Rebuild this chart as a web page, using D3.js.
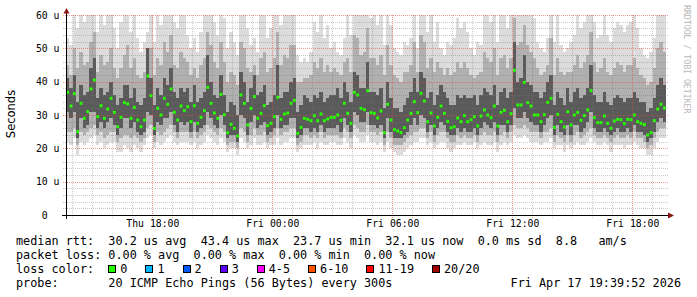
<!DOCTYPE html>
<html>
<head>
<meta charset="utf-8">
<script src="https://cdn.jsdelivr.net/npm/d3@7"></script>
<style>
  html, body { margin: 0; padding: 0; background: #fff; }
  svg { display: block; }
  text { font-family: "DejaVu Sans Mono", monospace; white-space: pre; }
</style>
</head>
<body>
<svg id="chart" width="697" height="297"></svg>
<script>
// time window of the graph (plot spans startTime..endTime)
const startTime = new Date(2026, 3, 16, 13, 41);
const endTime = new Date(2026, 3, 17, 19, 50);
const stepMinutes = 10;

// median rtt per step (u = microseconds)
const median = [
  36.8, 32.7, 36.4, 25.0, 33.5, 29.0, 31.0, 37.8, 40.5, 29.5, 32.8, 29.0,
  31.8, 35.0, 30.8, 26.5, 29.3, 33.7, 33.3, 29.0, 32.3, 28.5, 26.5, 28.5,
  41.7, 35.8, 26.0, 32.0, 30.0, 35.0, 33.2, 37.8, 30.8, 28.5, 32.7, 31.3,
  32.5, 28.0, 32.8, 27.5, 29.3, 31.3, 38.3, 33.5, 30.6, 29.0, 36.2, 30.1,
  24.7, 27.2, 26.0, 23.7, 36.0, 33.5, 27.0, 32.0, 35.5, 29.0, 30.5, 32.8,
  26.8, 27.5, 29.5, 35.3, 28.7, 30.3, 30.6, 33.5, 34.4, 24.5, 26.3, 29.0,
  28.7, 28.3, 29.8, 28.3, 30.3, 28.3, 28.8, 29.3, 29.3, 30.0, 28.4, 33.5,
  30.5, 27.5, 36.8, 36.0, 32.0, 31.6, 37.3, 30.7, 30.5, 29.1, 31.2, 24.7,
  33.2, 28.5, 25.6, 25.2, 24.7, 26.2, 28.5, 30.5, 34.0, 30.7, 36.5, 34.2,
  28.0, 30.6, 26.7, 29.3, 32.7, 30.5, 28.1, 26.2, 26.5, 29.1, 28.0, 29.8,
  28.0, 28.6, 29.5, 26.7, 29.7, 31.5, 30.0, 29.2, 32.7, 26.7, 30.8, 31.4,
  28.0, 30.4, 43.4, 33.0, 33.0, 39.8, 33.7, 32.7, 30.0, 30.0, 28.0, 30.1,
  33.8, 35.0, 26.3, 30.2, 28.0, 26.4, 31.0, 27.0, 30.0, 30.8, 28.4, 29.8,
  31.5, 37.3, 29.2, 27.7, 27.7, 29.7, 27.5, 26.0, 28.2, 28.7, 28.6, 27.4,
  28.7, 28.6, 30.0, 28.0, 27.5, 27.1, 24.0, 24.7, 28.3, 31.8, 33.2, 32.1
];

// smoke: spread of the 20 pings per step
const pingMin = [
  22, 21, 23, 18, 22, 21, 22, 23, 24, 21, 22, 20,
  21, 22, 22, 19, 19, 21, 20, 19, 21, 20, 19, 21,
  23, 24, 20, 22, 21, 22, 23, 24, 22, 21, 22, 22,
  22, 21, 22, 20, 21, 22, 24, 23, 22, 21, 23, 22,
  19, 20, 20, 18, 23, 22, 20, 21, 23, 21, 21, 22,
  20, 21, 21, 23, 21, 22, 22, 23, 23, 19, 20, 21,
  21, 21, 22, 20, 22, 21, 21, 22, 22, 21, 21, 23,
  22, 20, 24, 23, 22, 22, 24, 22, 22, 21, 22, 19,
  22, 20, 19, 18, 18, 19, 20, 21, 22, 22, 23, 23,
  21, 22, 20, 21, 22, 22, 20, 19, 20, 21, 21, 22,
  21, 21, 22, 20, 21, 22, 21, 21, 22, 19, 21, 22,
  21, 22, 24, 23, 23, 24, 23, 22, 22, 22, 21, 22,
  22, 23, 20, 21, 21, 19, 21, 20, 21, 22, 21, 21,
  22, 23, 22, 21, 21, 22, 21, 19, 21, 21, 21, 20,
  21, 21, 22, 21, 20, 20, 18, 18, 20, 22, 23, 23
];
const ping10 = [
  25, 25, 26, 21, 25, 24, 25, 26, 27, 24, 25, 23,
  24, 25, 25, 22, 23, 24, 24, 23, 24, 23, 22, 23,
  26, 27, 22, 25, 24, 25, 26, 27, 25, 23, 25, 25,
  25, 23, 25, 23, 24, 25, 27, 26, 25, 24, 26, 25,
  21, 22, 22, 20, 26, 25, 22, 24, 26, 24, 24, 25,
  22, 23, 24, 26, 24, 25, 25, 26, 26, 21, 22, 24,
  24, 23, 24, 23, 25, 23, 24, 24, 24, 24, 23, 26,
  25, 23, 27, 26, 25, 25, 27, 25, 25, 24, 25, 21,
  25, 23, 21, 21, 21, 22, 23, 24, 25, 25, 26, 26,
  23, 25, 22, 24, 25, 25, 23, 22, 22, 24, 23, 24,
  23, 23, 24, 22, 24, 25, 24, 24, 25, 22, 24, 25,
  23, 25, 27, 26, 26, 27, 26, 25, 25, 25, 23, 25,
  25, 26, 22, 24, 23, 22, 24, 22, 24, 25, 23, 24,
  25, 26, 24, 23, 23, 24, 23, 22, 23, 24, 23, 23,
  24, 23, 25, 23, 23, 22, 20, 21, 23, 25, 26, 26
];
const pingQ1 = [
  31, 29, 31, 23, 29, 26, 27, 31, 31, 26, 28, 26,
  28, 29, 27, 24, 26, 29, 29, 26, 28, 25, 24, 25,
  31, 30, 24, 28, 27, 29, 29, 31, 27, 25, 28, 27,
  28, 25, 28, 25, 26, 27, 31, 29, 27, 26, 30, 27,
  23, 24, 24, 22, 30, 29, 24, 28, 30, 26, 27, 28,
  24, 25, 26, 30, 26, 27, 27, 29, 29, 23, 24, 26,
  26, 25, 26, 25, 27, 25, 26, 26, 26, 27, 25, 29,
  27, 25, 31, 30, 28, 28, 31, 27, 27, 26, 27, 23,
  29, 25, 23, 23, 23, 24, 25, 27, 29, 27, 30, 29,
  25, 27, 24, 26, 28, 27, 25, 24, 24, 26, 25, 26,
  25, 25, 26, 24, 26, 28, 27, 26, 28, 24, 27, 27,
  25, 27, 32, 29, 29, 31, 29, 28, 27, 27, 25, 27,
  29, 30, 24, 27, 25, 24, 27, 24, 27, 27, 25, 26,
  28, 31, 26, 25, 25, 26, 25, 24, 25, 26, 25, 25,
  26, 25, 27, 25, 25, 24, 22, 23, 25, 28, 29, 28
];
const pingQ3 = [
  41, 38, 42, 34, 39, 36, 37, 44, 47, 35, 38, 36,
  37, 40, 36, 33, 35, 39, 39, 35, 38, 34, 33, 35,
  50, 41, 33, 38, 36, 41, 39, 44, 37, 35, 38, 37,
  38, 34, 39, 34, 35, 37, 48, 40, 36, 35, 42, 36,
  31, 34, 33, 30, 43, 40, 34, 38, 42, 36, 37, 39,
  33, 34, 36, 45, 35, 37, 37, 40, 41, 31, 33, 36,
  35, 34, 36, 35, 37, 34, 35, 36, 36, 38, 35, 40,
  37, 34, 43, 42, 38, 38, 46, 37, 37, 36, 38, 32,
  40, 35, 32, 32, 31, 33, 35, 37, 41, 37, 43, 41,
  35, 37, 33, 36, 39, 37, 35, 33, 33, 36, 35, 36,
  35, 35, 36, 33, 36, 38, 37, 36, 39, 33, 37, 38,
  35, 37, 52, 40, 41, 48, 40, 39, 37, 37, 35, 37,
  40, 42, 33, 37, 35, 33, 38, 34, 37, 38, 35, 36,
  38, 45, 36, 34, 34, 37, 34, 33, 35, 36, 35, 34,
  35, 35, 37, 35, 34, 34, 31, 32, 35, 39, 41, 39
];
const ping90 = [
  45, 42, 50, 44, 49, 45, 46, 52, 55, 43, 48, 45,
  46, 50, 44, 41, 44, 48, 51, 44, 47, 42, 41, 43,
  50, 50, 42, 47, 45, 52, 49, 54, 45, 44, 49, 47,
  46, 42, 44, 41, 45, 47, 55, 51, 46, 44, 52, 46,
  40, 43, 42, 39, 52, 50, 44, 43, 45, 42, 47, 49,
  43, 44, 47, 55, 45, 48, 47, 51, 51, 40, 40, 41,
  41, 42, 46, 44, 47, 43, 45, 43, 44, 43, 42, 46,
  47, 43, 54, 53, 48, 49, 56, 47, 47, 45, 48, 42,
  51, 45, 42, 41, 40, 43, 43, 45, 52, 43, 54, 52,
  44, 47, 43, 46, 44, 42, 44, 42, 43, 46, 44, 46,
  44, 42, 41, 42, 43, 49, 47, 46, 50, 42, 47, 48,
  44, 47, 59, 51, 52, 57, 51, 49, 47, 44, 42, 43,
  45, 53, 42, 47, 43, 42, 43, 43, 45, 48, 44, 46,
  48, 55, 46, 43, 44, 47, 43, 42, 44, 46, 45, 43,
  45, 45, 47, 44, 42, 41, 39, 40, 44, 50, 52, 49
];
const pingMax = [
  53, 51, 60, 56, 63, 58, 60, 65, 66, 55, 61, 57,
  62, 64, 56, 50, 58, 63, 65, 55, 60, 53, 49, 52,
  55, 64, 52, 61, 57, 65, 62, 66, 58, 56, 62, 60,
  54, 50, 53, 49, 55, 60, 66, 64, 58, 54, 65, 59,
  50, 55, 52, 48, 64, 63, 56, 51, 53, 49, 60, 62,
  53, 56, 60, 66, 57, 62, 60, 64, 63, 48, 46, 47,
  46, 49, 58, 55, 61, 53, 57, 50, 52, 49, 48, 53,
  60, 54, 66, 65, 61, 62, 66, 59, 60, 57, 62, 51,
  64, 57, 50, 49, 48, 52, 51, 53, 65, 50, 66, 64,
  55, 60, 52, 58, 50, 48, 52, 51, 53, 59, 56, 58,
  55, 50, 48, 52, 51, 62, 60, 58, 63, 52, 60, 61,
  56, 60, 66, 64, 65, 66, 64, 62, 59, 52, 50, 49,
  53, 65, 52, 60, 51, 49, 50, 52, 54, 61, 56, 58,
  61, 66, 58, 53, 54, 60, 54, 52, 56, 58, 57, 55,
  57, 58, 60, 56, 50, 48, 47, 49, 53, 63, 65, 62
];

const yTicks = [0, 10, 20, 30, 40, 50, 60];
const xTickTimes = [
  new Date(2026, 3, 16, 18), new Date(2026, 3, 17, 0), new Date(2026, 3, 17, 6),
  new Date(2026, 3, 17, 12), new Date(2026, 3, 17, 18)
];
const xTickLabels = ['Thu 18:00', 'Fri 00:00', 'Fri 06:00', 'Fri 12:00', 'Fri 18:00'];

const rttLegend = 'median rtt:  30.2 us avg  43.4 us max  23.7 us min  32.1 us now  0.0 ms sd  8.8   am/s';
const lossLegend = 'packet loss: 0.00 % avg  0.00 % max  0.00 % min  0.00 % now';
const lossLabels = ['0', '1', '2', '3', '4-5', '6-10', '11-19', '20/20'];
const lossColors = ['#26ff00', '#00b8ff', '#0059ff', '#5e00ff', '#ff00ff', '#ff5500', '#ff0000', '#a10000'];
const probeLegend = 'probe:       20 ICMP Echo Pings (56 Bytes) every 300s';
const stamp = 'Fri Apr 17 19:39:52 2026';

const svg = d3.select('#chart');
const plotLeft = 66, plotRight = 669, plotTop = 15, plotBottom = 215;

const x = d3.scaleTime().domain([startTime, endTime]).range([plotLeft, plotRight]);
const y = d3.scaleLinear().domain([0, 60]).range([plotBottom, plotTop]);

const rows = median.map((m, i) => ({
  t: d3.timeMinute.offset(startTime, i * stepMinutes),
  med: m, lo: pingMin[i], p10: ping10[i], q1: pingQ1[i], q3: pingQ3[i], p90: ping90[i], hi: pingMax[i]
}));
// closing point so the last step gets its width
const stepRows = rows.concat([Object.assign({}, rows[rows.length - 1], {
  t: d3.timeMinute.offset(startTime, rows.length * stepMinutes)
})]);

svg.append('defs').append('clipPath').attr('id', 'plot-clip')
  .append('rect').attr('x', plotLeft).attr('y', plotTop)
  .attr('width', plotRight - plotLeft).attr('height', plotBottom - plotTop);

const plot = svg.append('g').attr('clip-path', 'url(#plot-clip)');

// smoke layers, outer to inner
const layers = [
  ['lo', 'hi', '#dcdcdc'],
  ['p10', 'p90', '#b0b0b0'],
  ['q1', 'q3', '#5a5a5a']
];
layers.forEach(([a, b, c]) => {
  plot.append('path')
    .datum(stepRows)
    .attr('fill', c)
    .attr('shape-rendering', 'crispEdges')
    .attr('d', d3.area().curve(d3.curveStepAfter)
      .x(d => x(d.t)).y0(d => y(d[a])).y1(d => y(d[b])));
});

// grid
const grid = svg.append('g');
const minorColor = 'rgba(120,120,120,0.4)';
const majorColor = 'rgba(225,70,70,0.55)';
d3.range(2, 61, 2).forEach(v => {
  const yy = Math.round(y(v)) + 0.5;
  grid.append('line').attr('x1', plotLeft - 3).attr('x2', plotRight).attr('y1', yy).attr('y2', yy)
    .attr('stroke', v % 10 === 0 ? majorColor : minorColor).attr('stroke-dasharray', '1,1');
});
d3.timeHour.range(d3.timeHour.ceil(startTime), endTime).forEach(t => {
  const xx = Math.round(x(t)) + 0.5;
  grid.append('line').attr('x1', xx).attr('x2', xx).attr('y1', plotTop).attr('y2', plotBottom + 3)
    .attr('stroke', t.getHours() % 6 === 0 ? majorColor : minorColor).attr('stroke-dasharray', '1,1');
});

// median markers
svg.append('g').selectAll('rect')
  .data(rows)
  .enter().append('rect')
  .attr('x', d => x(d.t) + 0.3)
  .attr('y', d => y(d.med) - 1.5)
  .attr('width', 2.8)
  .attr('height', 3)
  .attr('fill', lossColors[0]);

// axes
const axisG = svg.append('g');
axisG.append('line').attr('x1', plotLeft + 0.5).attr('x2', plotLeft + 0.5).attr('y1', 11).attr('y2', plotBottom + 4)
  .attr('stroke', '#000');
axisG.append('line').attr('x1', plotLeft - 4).attr('x2', plotRight + 1)
  .attr('y1', plotBottom + 0.5).attr('y2', plotBottom + 0.5)
  .attr('stroke', '#000');
axisG.append('path').attr('d', `M${plotLeft - 2.5},13.5 L${plotLeft + 3.5},13.5 L${plotLeft + 0.5},8 Z`)
  .attr('fill', '#8b1010');
axisG.append('path')
  .attr('d', `M${plotRight - 1},${plotBottom - 2.5} L${plotRight - 1},${plotBottom + 3.5} L${plotRight + 5},${plotBottom + 0.5} Z`)
  .attr('fill', '#8b1010');

const yAxis = svg.append('g').attr('transform', `translate(${plotLeft + 0.5},0)`)
  .call(d3.axisLeft(y).tickValues(yTicks).tickFormat(d => d === 0 ? '0  ' : d + ' u').tickSize(0).tickPadding(7));
yAxis.select('.domain').remove();
yAxis.selectAll('text').style('font-family', '"DejaVu Sans Mono", monospace').style('font-size', '9.8px').attr('fill', '#000');

const xAxis = svg.append('g').attr('transform', `translate(0,${plotBottom + 0.5})`)
  .call(d3.axisBottom(x).tickValues(xTickTimes).tickFormat((d, i) => xTickLabels[i]).tickSize(0).tickPadding(4.5));
xAxis.select('.domain').remove();
xAxis.selectAll('text').style('font-family', '"DejaVu Sans Mono", monospace').style('font-size', '9.8px').attr('fill', '#000');

// titles
svg.append('text')
  .attr('transform', 'translate(15,114) rotate(-90)')
  .attr('text-anchor', 'middle')
  .style('font-family', '"DejaVu Sans", sans-serif')
  .style('font-size', '11.5px')
  .text('Seconds');

svg.append('text')
  .attr('transform', 'translate(684,5) rotate(90)')
  .style('font-size', '8.2px')
  .attr('fill', '#b8b8b8')
  .text('RRDTOOL / TOBI OETIKER');

// legend
const fs = 11.8, cw = fs * 0.602;
const legend = svg.append('g').style('font-size', fs + 'px').attr('fill', '#000');
legend.append('text').attr('x', 16).attr('y', 245).text(rttLegend);
legend.append('text').attr('x', 16).attr('y', 259).text(lossLegend);
legend.append('text').attr('x', 16).attr('y', 273).text('loss color:');
let bx = 16 + 13 * cw;
lossLabels.forEach((lab, i) => {
  legend.append('rect').attr('x', Math.round(bx) + 0.5).attr('y', 265.5).attr('width', 7).attr('height', 7)
    .attr('fill', lossColors[i]).attr('stroke', '#000');
  legend.append('text').attr('x', bx + 12).attr('y', 273).text(lab);
  bx += 12 + lab.length * cw + 18;
});
legend.append('text').attr('x', 16).attr('y', 287).text(probeLegend);
legend.append('text').attr('x', 681).attr('y', 287).attr('text-anchor', 'end').text(stamp);
</script>
</body>
</html>
